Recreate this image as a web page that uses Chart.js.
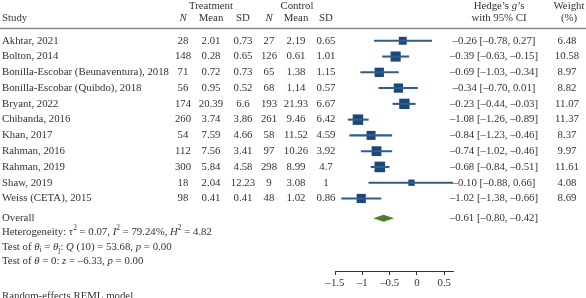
<!DOCTYPE html>
<html>
<head>
<meta charset="utf-8">
<script src="https://cdn.jsdelivr.net/npm/chart.js@4.4.0/dist/chart.umd.min.js"></script>
<style>
  html, body { margin: 0; padding: 0; background: #fff; }
  #wrap { width: 586px; height: 298px; position: relative; }
</style>
</head>
<body>
<div id="wrap"><canvas id="forest"></canvas></div>
<script>
// Forest plot: Hedge's g per study with 95% CI, random-effects REML

const studies = [
  'Akhtar, 2021', 'Bolton, 2014', 'Bonilla-Escobar (Beunaventura), 2018',
  'Bonilla-Escobar (Quibdo), 2018', 'Bryant, 2022', 'Chibanda, 2016',
  'Khan, 2017', 'Rahman, 2016', 'Rahman, 2019', 'Shaw, 2019', 'Weiss (CETA), 2015'
];
const nT = [28, 148, 71, 56, 174, 260, 54, 112, 300, 18, 98];
const meanT = [2.01, 0.28, 0.72, 0.95, 20.39, 3.74, 7.59, 7.56, 5.84, 2.04, 0.41];
const sdT = [0.73, 0.65, 0.73, 0.52, 6.6, 3.86, 4.66, 3.41, 4.58, 12.23, 0.41];
const nC = [27, 126, 65, 68, 193, 261, 58, 97, 298, 9, 48];
const meanC = [2.19, 0.61, 1.38, 1.14, 21.93, 9.46, 11.52, 10.26, 8.99, 3.08, 1.02];
const sdC = [0.65, 1.01, 1.15, 0.57, 6.67, 6.42, 4.59, 3.92, 4.7, 1, 0.86];
const hedgesG = [-0.26, -0.39, -0.69, -0.34, -0.23, -1.08, -0.84, -0.74, -0.68, -0.10, -1.02];
const ciLow = [-0.78, -0.63, -1.03, -0.70, -0.44, -1.26, -1.23, -1.02, -0.84, -0.88, -1.38];
const ciHigh = [0.27, -0.15, -0.34, 0.01, -0.03, -0.89, -0.46, -0.46, -0.51, 0.66, -0.66];
const weight = [6.48, 10.58, 8.97, 8.82, 11.07, 11.37, 8.37, 9.97, 11.61, 4.08, 8.69];
const overallG = -0.61, overallLow = -0.80, overallHigh = -0.42;
const xTicks = [-1.5, -1, -0.5, 0, 0.5];

const FONT = '"Liberation Serif", "DejaVu Serif", serif';
const FS = 10.8;
const TEXT = '#333';
const BLUE = '#1c4677';
const WHISKER = '#2f5d8e';
const GREEN = '#4f7d2a';
const OVERALL_ROW = 11.25;

const minus = (s) => String(s).replace(/-/g, '\u2013');
const fmt = (v) => minus(v.toFixed(2));

// draw text made of plain / italic / sup / sub pieces
function rich(ctx, parts, x, y, align) {
  const pieces = parts.map(p => Array.isArray(p) ? p : [p, '']);
  const fontFor = (st) => {
    const small = st === 'sup' || st === 'sub';
    const ital = st === 'i';
    return (ital ? 'italic ' : '') + (small ? FS * 0.68 : FS) + 'px ' + FONT;
  };
  let total = 0;
  pieces.forEach(([t, st]) => { ctx.font = fontFor(st); total += ctx.measureText(t).width; });
  let cx = align === 'center' ? x - total / 2 : x;
  ctx.textAlign = 'left';
  pieces.forEach(([t, st]) => {
    ctx.font = fontFor(st);
    const dy = st === 'sup' ? -3.5 : st === 'sub' ? 3 : 0;
    ctx.fillText(t, cx, y + dy);
    cx += ctx.measureText(t).width;
  });
}

const tablePlugin = {
  id: 'forestTable',
  afterDatasetsDraw(chart) {
    const ctx = chart.ctx;
    const xs = chart.scales.x, ys = chart.scales.y;

    // overall diamond
    const yo = ys.getPixelForValue(OVERALL_ROW);
    ctx.save();
    ctx.fillStyle = GREEN;
    ctx.beginPath();
    ctx.moveTo(xs.getPixelForValue(overallLow), yo);
    ctx.lineTo(xs.getPixelForValue(overallG), yo - 3.5);
    ctx.lineTo(xs.getPixelForValue(overallHigh), yo);
    ctx.lineTo(xs.getPixelForValue(overallG), yo + 3.5);
    ctx.closePath();
    ctx.fill();
    ctx.restore();
  },
  afterDraw(chart) {
    const ctx = chart.ctx;
    const ys = chart.scales.y;
    ctx.save();
    ctx.fillStyle = TEXT;
    ctx.textBaseline = 'middle';

    // headers
    const h1 = 6, h2 = 18;
    rich(ctx, ['Treatment'], 211, h1, 'center');
    rich(ctx, ['Control'], 297, h1, 'center');
    rich(ctx, ["Hedge\u2019s ", ['g', 'i'], "\u2019s"], 499, h1, 'center');
    rich(ctx, ['Weight'], 569, h1, 'center');
    rich(ctx, ['Study'], 2, h2, 'left');
    rich(ctx, [['N', 'i']], 183, h2, 'center');
    rich(ctx, ['Mean'], 211, h2, 'center');
    rich(ctx, ['SD'], 243, h2, 'center');
    rich(ctx, [['N', 'i']], 269, h2, 'center');
    rich(ctx, ['Mean'], 296, h2, 'center');
    rich(ctx, ['SD'], 326, h2, 'center');
    rich(ctx, ['with 95% CI'], 499, h2, 'center');
    rich(ctx, ['(%)'], 569, h2, 'center');

    ctx.strokeStyle = '#8a8a8a';
    ctx.lineWidth = 1.6;
    ctx.beginPath();
    ctx.moveTo(0, 28.5);
    ctx.lineTo(586, 28.5);
    ctx.stroke();

    // study rows
    studies.forEach((s, i) => {
      const y = ys.getPixelForValue(i);
      rich(ctx, [s], 2, y, 'left');
      rich(ctx, [String(nT[i])], 183, y, 'center');
      rich(ctx, [String(meanT[i])], 211, y, 'center');
      rich(ctx, [String(sdT[i])], 243, y, 'center');
      rich(ctx, [String(nC[i])], 269, y, 'center');
      rich(ctx, [String(meanC[i])], 296, y, 'center');
      rich(ctx, [String(sdC[i])], 326, y, 'center');
      rich(ctx, [fmt(hedgesG[i]) + ' [' + fmt(ciLow[i]) + ', ' + fmt(ciHigh[i]) + ']'], 494, y, 'center');
      rich(ctx, [weight[i].toFixed(2)], 567, y, 'center');
    });

    const yo = ys.getPixelForValue(OVERALL_ROW);
    rich(ctx, ['Overall'], 2, yo, 'left');
    rich(ctx, [fmt(overallG) + ' [' + fmt(overallLow) + ', ' + fmt(overallHigh) + ']'], 494, yo, 'center');

    rich(ctx, ['Heterogeneity: \u03c4', ['2', 'sup'], ' = 0.07, ', ['I', 'i'], ['2', 'sup'],
      ' = 79.24%, ', ['H', 'i'], ['2', 'sup'], ' = 4.82'], 2, 232, 'left');
    rich(ctx, ['Test of ', ['\u03b8', 'i'], ['i', 'sub'], ' = ', ['\u03b8', 'i'], ['j', 'sub'], ': ',
      ['Q', 'i'], ' (10) = 53.68, ', ['p', 'i'], ' = 0.00'], 2, 247, 'left');
    rich(ctx, ['Test of ', ['\u03b8', 'i'], ' = 0: ', ['z', 'i'], ' = \u20136.33, ', ['p', 'i'], ' = 0.00'], 2, 261, 'left');
    rich(ctx, ['Random-effects REML model'], 2, 296, 'left');
    ctx.restore();
  }
};

const ciData = studies.map((s, i) => ({ x: [ciLow[i], ciHigh[i]], y: i }));
const pointData = studies.map((s, i) => ({ x: hedgesG[i], y: i }));

new Chart(document.getElementById('forest'), {
  type: 'bar',
  data: {
    datasets: [
      {
        type: 'bar',
        data: ciData,
        backgroundColor: WHISKER,
        borderWidth: 0,
        barThickness: 1.4
      },
      {
        type: 'scatter',
        data: pointData,
        pointStyle: 'rect',
        backgroundColor: BLUE,
        borderColor: BLUE,
        borderWidth: 0,
        pointRadius: (c) => 2.2 * Math.sqrt(weight[c.dataIndex] || 0)
      }
    ]
  },
  options: {
    indexAxis: 'y',
    responsive: true,
    maintainAspectRatio: false,
    animation: false,
    layout: { padding: { left: 335, right: 133, top: 25, bottom: 6 } },
    plugins: { legend: { display: false }, tooltip: { enabled: false } },
    scales: {
      x: {
        type: 'linear',
        min: -1.5,
        max: 0.66,
        offset: false,
        afterBuildTicks: (scale) => { scale.ticks = xTicks.map(v => ({ value: v })); },
        ticks: {
          color: TEXT,
          padding: 2,
          font: { family: FONT, size: FS },
          callback: (v) => minus(v)
        },
        grid: { display: true, drawOnChartArea: false, drawTicks: true, tickLength: 4, color: '#333' },
        border: { display: true, color: '#333', width: 1 }
      },
      y: {
        type: 'linear',
        display: false,
        reverse: true,
        offset: false,
        min: -1,
        max: 14.6
      }
    }
  },
  plugins: [tablePlugin]
});
</script>
</body>
</html>
